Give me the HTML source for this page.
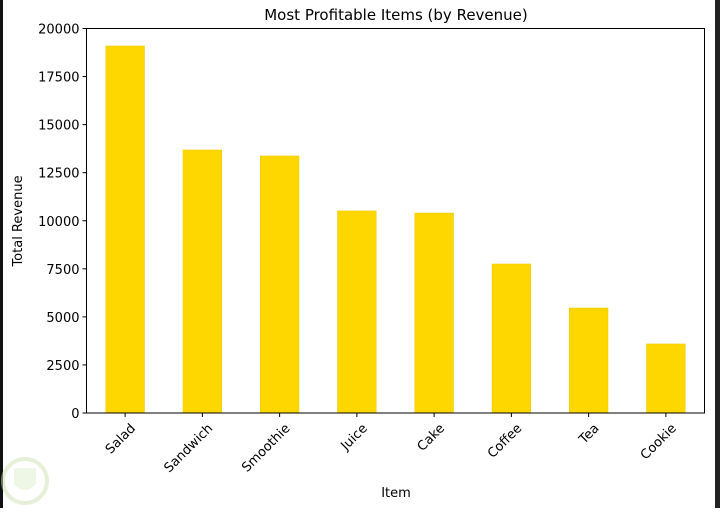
<!DOCTYPE html>
<html><head><meta charset="utf-8"><style>
body{margin:0;width:720px;height:508px;background:#fff;overflow:hidden;font-family:"DejaVu Sans","Liberation Sans",sans-serif}
</style></head><body>
<svg width="720" height="508" xmlns="http://www.w3.org/2000/svg" id="svg">
<rect x="0" y="0" width="3" height="508" fill="#111"/>
<rect x="715" y="0" width="5" height="508" fill="#222"/>
<text x="396" y="20" font-size="15" text-anchor="middle">Most Profitable Items (by Revenue)</text>
<text x="396" y="497" font-size="13" text-anchor="middle">Item</text>
<text x="22" y="221" font-size="13" text-anchor="middle" transform="rotate(-90 22 221)">Total Revenue</text>
<g opacity="0.5"><circle cx="25" cy="481" r="22" fill="none" stroke="#cfe3b5" stroke-width="4"/><path d="M14 468 L36 468 L36 484 Q25 496 14 484 Z" fill="#dfeecf"/></g>
<g id="plot"></g>
</svg>
<script>
const categories=["Salad","Sandwich","Smoothie","Juice","Cake","Coffee","Tea","Cookie"];
const revenue=[19090,13680,13370,10510,10400,7750,5460,3590];
const yTicks=[0,2500,5000,7500,10000,12500,15000,17500,20000];
const L=86.5,R=704.5,T=28.5,B=413,yMax=20000;
const ns="http://www.w3.org/2000/svg",g=document.getElementById('plot');
const step=(R-L)/categories.length;
const x=i=>L+step*(i+0.5);
const y=v=>B-(v/yMax)*(B-T);
function mk(t,a){const e=document.createElementNS(ns,t);for(const k in a)e.setAttribute(k,a[k]);g.appendChild(e);return e;}
categories.forEach((c,i)=>{
 const bw=step*0.5;
 const r=mk('rect',{x:x(i)-bw/2,y:y(revenue[i]),width:bw,height:B-y(revenue[i]),fill:'#FFD700',stroke:'#f5c800','stroke-width':0.6});
 
 
 const tk=mk('line',{x1:x(i),x2:x(i),y1:B,y2:B+4,stroke:'#000'});
 
 
 const tx=x(i)+11,ty=B+16;
 const t=mk('text',{x:tx,y:ty,'font-size':13,'text-anchor':'end',transform:`rotate(-45 ${tx} ${ty})`});
 t.textContent=c;
 
 
});
yTicks.forEach(v=>{
 const tk=mk('line',{x1:L-4,x2:L,y1:y(v),y2:y(v),stroke:'#000'});
 
 
 const t=mk('text',{x:L-7,y:y(v)+5,'font-size':13,'text-anchor':'end'});
 t.textContent=v;
 
 
});
const ax=mk('rect',{x:L,y:T,width:R-L,height:B-T,fill:'none',stroke:'#000','stroke-width':1});


</script>
</body></html>
